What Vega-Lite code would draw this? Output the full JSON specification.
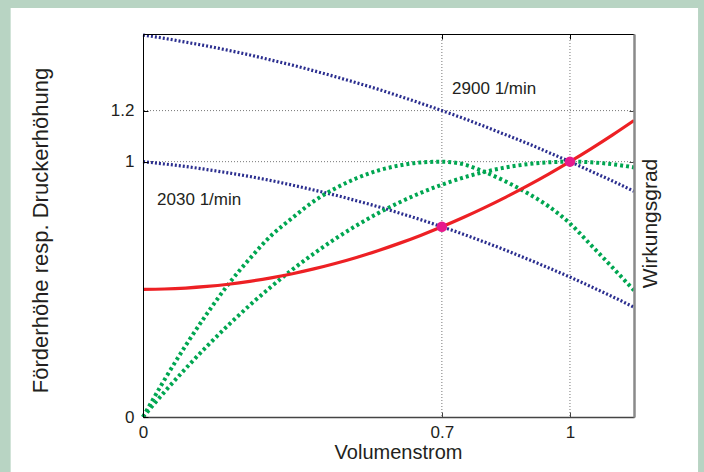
{
  "$schema": "https://vega.github.io/schema/vega-lite/v6.json",
  "width": 491,
  "height": 383,
  "autosize": "none",
  "padding": {"left": 143, "top": 34, "right": 70, "bottom": 55},
  "background": "#b8d4c3",
  "config": {
    "view": {"stroke": null},
    "font": "Liberation Sans",
    "axis": {"labelFont": "Liberation Sans", "titleFont": "Liberation Sans", "labelColor": "#231f20", "titleColor": "#231f20", "titleFontWeight": "normal", "grid": false, "labelFlush": false}
  },
  "datasets": {
    "curves": [
      {"s":"2900","q":0,"H":1.496},{"s":"2900","q":0.05,"H":1.483},{"s":"2900","q":0.1,"H":1.468},{"s":"2900","q":0.15,"H":1.453},{"s":"2900","q":0.2,"H":1.436},{"s":"2900","q":0.25,"H":1.418},{"s":"2900","q":0.3,"H":1.398},{"s":"2900","q":0.35,"H":1.378},{"s":"2900","q":0.4,"H":1.356},{"s":"2900","q":0.45,"H":1.333},{"s":"2900","q":0.5,"H":1.309},{"s":"2900","q":0.55,"H":1.284},{"s":"2900","q":0.6,"H":1.257},{"s":"2900","q":0.65,"H":1.229},{"s":"2900","q":0.7,"H":1.2},{"s":"2900","q":0.75,"H":1.17},{"s":"2900","q":0.8,"H":1.138},{"s":"2900","q":0.85,"H":1.105},{"s":"2900","q":0.9,"H":1.072},{"s":"2900","q":0.95,"H":1.036},{"s":"2900","q":1,"H":1.0},{"s":"2900","q":1.05,"H":0.962},{"s":"2900","q":1.1,"H":0.924},{"s":"2900","q":1.15,"H":0.884},
      {"s":"2030","q":0,"H":1.0},{"s":"2030","q":0.05,"H":0.991},{"s":"2030","q":0.1,"H":0.981},{"s":"2030","q":0.15,"H":0.969},{"s":"2030","q":0.2,"H":0.956},{"s":"2030","q":0.25,"H":0.942},{"s":"2030","q":0.3,"H":0.926},{"s":"2030","q":0.35,"H":0.908},{"s":"2030","q":0.4,"H":0.889},{"s":"2030","q":0.45,"H":0.869},{"s":"2030","q":0.5,"H":0.847},{"s":"2030","q":0.55,"H":0.824},{"s":"2030","q":0.6,"H":0.799},{"s":"2030","q":0.65,"H":0.773},{"s":"2030","q":0.7,"H":0.745},{"s":"2030","q":0.75,"H":0.716},{"s":"2030","q":0.8,"H":0.685},{"s":"2030","q":0.85,"H":0.653},{"s":"2030","q":0.9,"H":0.619},{"s":"2030","q":0.95,"H":0.584},{"s":"2030","q":1,"H":0.548},{"s":"2030","q":1.05,"H":0.51},{"s":"2030","q":1.1,"H":0.471},{"s":"2030","q":1.15,"H":0.43},
      {"s":"anlage","q":0,"H":0.5},{"s":"anlage","q":0.05,"H":0.50125},{"s":"anlage","q":0.1,"H":0.505},{"s":"anlage","q":0.15,"H":0.51125},{"s":"anlage","q":0.2,"H":0.52},{"s":"anlage","q":0.25,"H":0.53125},{"s":"anlage","q":0.3,"H":0.545},{"s":"anlage","q":0.35,"H":0.56125},{"s":"anlage","q":0.4,"H":0.58},{"s":"anlage","q":0.45,"H":0.60125},{"s":"anlage","q":0.5,"H":0.625},{"s":"anlage","q":0.55,"H":0.65125},{"s":"anlage","q":0.6,"H":0.68},{"s":"anlage","q":0.65,"H":0.71125},{"s":"anlage","q":0.7,"H":0.745},{"s":"anlage","q":0.75,"H":0.78125},{"s":"anlage","q":0.8,"H":0.82},{"s":"anlage","q":0.85,"H":0.86125},{"s":"anlage","q":0.9,"H":0.905},{"s":"anlage","q":0.95,"H":0.95125},{"s":"anlage","q":1,"H":1.0},{"s":"anlage","q":1.05,"H":1.05125},{"s":"anlage","q":1.1,"H":1.105},{"s":"anlage","q":1.15,"H":1.16125},
      {"s":"eta2030","q":0,"H":0},{"s":"eta2030","q":0.05,"H":0.145},{"s":"eta2030","q":0.1,"H":0.28},{"s":"eta2030","q":0.15,"H":0.405},{"s":"eta2030","q":0.2,"H":0.52},{"s":"eta2030","q":0.25,"H":0.62},{"s":"eta2030","q":0.3,"H":0.71},{"s":"eta2030","q":0.35,"H":0.78},{"s":"eta2030","q":0.4,"H":0.845},{"s":"eta2030","q":0.45,"H":0.895},{"s":"eta2030","q":0.5,"H":0.935},{"s":"eta2030","q":0.55,"H":0.965},{"s":"eta2030","q":0.6,"H":0.985},{"s":"eta2030","q":0.65,"H":0.997},{"s":"eta2030","q":0.7,"H":1.0},{"s":"eta2030","q":0.75,"H":0.99},{"s":"eta2030","q":0.8,"H":0.96},{"s":"eta2030","q":0.85,"H":0.922},{"s":"eta2030","q":0.9,"H":0.877},{"s":"eta2030","q":0.95,"H":0.825},{"s":"eta2030","q":1,"H":0.758},{"s":"eta2030","q":1.05,"H":0.672},{"s":"eta2030","q":1.1,"H":0.585},{"s":"eta2030","q":1.15,"H":0.496},
      {"s":"eta2900","q":0,"H":0},{"s":"eta2900","q":0.05,"H":0.0975},{"s":"eta2900","q":0.1,"H":0.19},{"s":"eta2900","q":0.15,"H":0.2775},{"s":"eta2900","q":0.2,"H":0.36},{"s":"eta2900","q":0.25,"H":0.4375},{"s":"eta2900","q":0.3,"H":0.51},{"s":"eta2900","q":0.35,"H":0.5775},{"s":"eta2900","q":0.4,"H":0.64},{"s":"eta2900","q":0.45,"H":0.6975},{"s":"eta2900","q":0.5,"H":0.75},{"s":"eta2900","q":0.55,"H":0.7975},{"s":"eta2900","q":0.6,"H":0.84},{"s":"eta2900","q":0.65,"H":0.8775},{"s":"eta2900","q":0.7,"H":0.91},{"s":"eta2900","q":0.75,"H":0.9375},{"s":"eta2900","q":0.8,"H":0.96},{"s":"eta2900","q":0.85,"H":0.9775},{"s":"eta2900","q":0.9,"H":0.99},{"s":"eta2900","q":0.95,"H":0.9975},{"s":"eta2900","q":1,"H":1.0},{"s":"eta2900","q":1.05,"H":0.9975},{"s":"eta2900","q":1.1,"H":0.99},{"s":"eta2900","q":1.15,"H":0.9775}
    ],
    "points": [{"q":0.7,"H":0.745},{"q":1,"H":1}],
    "labels": [{"t":"2900 1/min","q":0.724,"H":1.285},{"t":"2030 1/min","q":0.033,"H":0.848}],
    "gridx": [{"v":0.7},{"v":1}],
    "gridy": [{"v":1},{"v":1.2}]
  },
  "resolve": {"axis": {"x": "independent", "y": "independent"}},
  "layer": [
    {
      "data": {"values": [{}]},
      "mark": {"type": "rect", "fill": "#ffffff"},
      "encoding": {
        "x": {"datum": -0.31, "type": "quantitative", "scale": {"domain": [0, 1.15], "nice": false, "zero": false}, "axis": null},
        "x2": {"datum": 1.3},
        "y": {"datum": -0.3, "type": "quantitative", "scale": {"domain": [0, 1.5], "nice": false, "zero": false}, "axis": null},
        "y2": {"datum": 1.602}
      }
    },
    {
      "data": {"name": "gridx"},
      "mark": {"type": "rule", "stroke": "#777777", "strokeDash": [1, 2], "strokeWidth": 1},
      "encoding": {"x": {"field": "v", "type": "quantitative", "axis": null}}
    },
    {
      "data": {"name": "gridy"},
      "mark": {"type": "rule", "stroke": "#777777", "strokeDash": [1, 2], "strokeWidth": 1},
      "encoding": {"y": {"field": "v", "type": "quantitative", "axis": null}}
    },
    {
      "data": {"name": "curves"},
      "transform": [{"filter": "datum.s == '2900' || datum.s == '2030'"}],
      "mark": {"type": "line", "stroke": "#2b2e8f", "strokeWidth": 3.2, "strokeDash": [2, 2], "interpolate": "monotone", "strokeCap": "butt"},
      "encoding": {
        "x": {"field": "q", "type": "quantitative", "axis": {"zindex": 1, "orient": "bottom", "values": [0, 0.7, 1], "format": "~g", "labelFontSize": 17, "tickSize": -5, "labelPadding": 12, "domainColor": "#444444", "domainWidth": 1.5, "tickColor": "#444444", "title": "Volumenstrom", "titleFontSize": 20, "titleX": 255, "titleY": 35, "titleBaseline": "middle", "titleAlign": "center"}},
        "y": {"field": "H", "type": "quantitative", "axis": {"zindex": 1, "orient": "left", "values": [0, 1, 1.2], "format": "~g", "labelFontSize": 17, "tickSize": -5, "labelPadding": 14, "domainColor": "#000000", "domainWidth": 1, "tickColor": "#000000", "title": "Förderhöhe resp. Druckerhöhung", "titleFontSize": 22, "titleAngle": 270, "titleX": -103, "titleY": 196, "titleBaseline": "middle", "titleAlign": "center"}},
        "detail": {"field": "s"}
      }
    },
    {
      "data": {"name": "curves"},
      "transform": [{"filter": "datum.s == 'eta2030' || datum.s == 'eta2900'"}],
      "mark": {"type": "line", "stroke": "#00a651", "strokeWidth": 4, "strokeDash": [3, 3], "interpolate": "monotone", "strokeCap": "butt"},
      "encoding": {
        "x": {"field": "q", "type": "quantitative", "axis": {"zindex": 1, "orient": "top", "values": [0.7, 1], "labels": false, "tickSize": -5, "domainColor": "#000000", "domainWidth": 1, "tickColor": "#000000", "title": null}},
        "y": {"field": "H", "type": "quantitative", "axis": {"zindex": 1, "orient": "right", "values": [0, 1, 1.2], "labels": false, "tickSize": -5, "domainColor": "#8a8a8a", "domainWidth": 2.5, "tickColor": "#444444", "title": "Wirkungsgrad", "titleFontSize": 21, "titleAngle": 270, "titleX": 16, "titleY": 189, "titleBaseline": "middle", "titleAlign": "center"}},
        "detail": {"field": "s"}
      }
    },
    {
      "data": {"name": "curves"},
      "transform": [{"filter": "datum.s == 'anlage'"}],
      "mark": {"type": "line", "stroke": "#ed2024", "strokeWidth": 3.2, "interpolate": "monotone"},
      "encoding": {
        "x": {"field": "q", "type": "quantitative", "axis": null},
        "y": {"field": "H", "type": "quantitative", "axis": null}
      }
    },
    {
      "data": {"name": "points"},
      "mark": {"type": "point", "filled": true, "fill": "#e6198c", "opacity": 1, "size": 110, "shape": "circle"},
      "encoding": {
        "x": {"field": "q", "type": "quantitative", "axis": null},
        "y": {"field": "H", "type": "quantitative", "axis": null}
      }
    },
    {
      "data": {"name": "labels"},
      "mark": {"type": "text", "align": "left", "baseline": "middle", "fontSize": 17, "font": "Liberation Sans", "fill": "#231f20"},
      "encoding": {
        "x": {"field": "q", "type": "quantitative", "axis": null},
        "y": {"field": "H", "type": "quantitative", "axis": null},
        "text": {"field": "t"}
      }
    }
  ]
}
